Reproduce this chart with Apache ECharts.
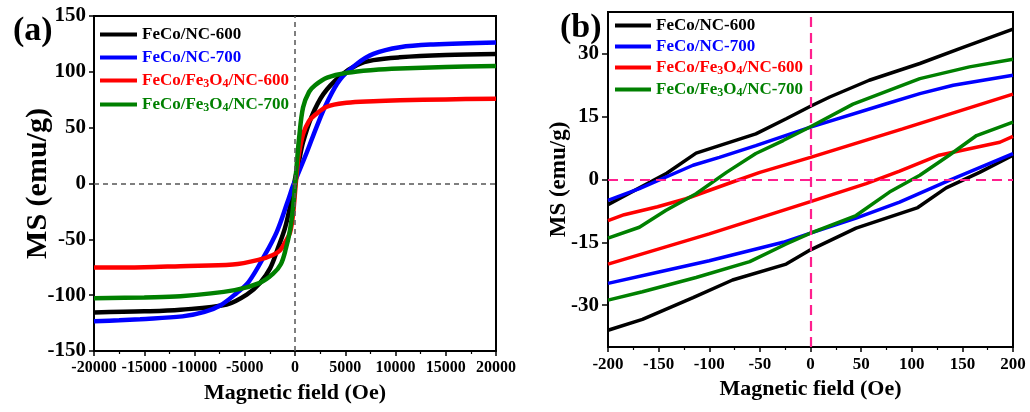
<!DOCTYPE html>
<html>
<head>
<meta charset="utf-8">
<script src="https://cdn.jsdelivr.net/npm/echarts@6/dist/echarts.min.js"></script>
<style>
html, body { margin: 0; padding: 0; background: #fff; }
#main { width: 1030px; height: 412px; }
</style>
</head>
<body>
<div id="main"></div>
<script>
// sample names and colours
var names = ['FeCo/NC-600', 'FeCo/NC-700', 'FeCo/Fe3O4/NC-600', 'FeCo/Fe3O4/NC-700'];
var colors = ['#000000', '#0000ff', '#ff0000', '#008000'];

// (a) full loops, field in Oe, MS in emu/g
var aBlack = [[-20000,-115.5],[-15000,-114.5],[-11400,-113],[-6800,-108.4],[-4800,-99.5],[-3480,-89],[-2480,-76],[-1660,-57],[-1000,-40],[-500,-21],[-200,-7],[0,4],[400,20],[800,37],[1660,60],[2820,80],[4480,96],[6140,106],[7800,110.5],[10400,113],[15000,115],[20000,116]];
var aBlue = [[-20000,-123.4],[-17500,-122.5],[-15400,-121.5],[-11200,-119],[-9000,-115],[-7400,-109],[-5800,-98],[-4600,-88],[-3000,-64],[-1800,-43],[-800,-18],[-160,-1],[0,2],[1160,27.5],[2160,51],[3160,72],[4480,93],[6140,107],[7800,116],[10440,122],[13760,124.5],[20000,126.3]];
var aRed = [[-20000,-75.3],[-15000,-75],[-11400,-74],[-6200,-72.6],[-3480,-68],[-2200,-64],[-1500,-60],[-1000,-53],[-500,-44],[-200,-28],[0,-8],[200,12],[400,27],[830,45],[1400,56],[1820,60],[3160,68.7],[5140,72.3],[7800,73.7],[10440,74.5],[15000,75.3],[20000,76]];
var aGreen = [[-20000,-102.8],[-15000,-102],[-11400,-101],[-6000,-95.5],[-3500,-89],[-2200,-81],[-1400,-72],[-900,-58],[-500,-42],[-200,-22],[0,-2],[200,20],[400,40],[800,68],[1400,82],[2000,88],[3200,94.8],[5200,99.2],[7800,101.7],[10400,103],[15000,104.3],[20000,105.2]];

// (b) low-field zoom, upper and lower branches
var bBlackUp = [[-200,-6.0],[-142,1.5],[-113,6.3],[-54,10.9],[-24,14.5],[0,17.5],[19,19.7],[58,23.7],[108,27.7],[150,31.5],[200,35.9]];
var bBlackDown = [[-200,-36.0],[-166,-33.4],[-116,-28.2],[-77,-24.0],[-24,-20.2],[0,-16.8],[45,-11.6],[106,-6.7],[134,-2.0],[167,1.7],[200,5.8]];
var bBlueUp = [[-200,-5.0],[-169,-2.2],[-116,3.4],[-90,5.3],[-54,8.1],[0,12.5],[75,18.1],[108,20.5],[141,22.5],[200,24.9]];
var bBlueDown = [[-200,-24.8],[-152,-22.2],[-100,-19.4],[-27,-15.0],[0,-12.8],[45,-9.2],[88,-5.4],[137,-0.2],[200,6.2]];
var bRedUp = [[-200,-9.8],[-184,-8.4],[-151,-6.5],[-123,-4.6],[-77,-0.6],[-50,1.7],[0,5.3],[91,12.1],[200,20.4]];
var bRedDown = [[-200,-20.2],[-100,-13.0],[0,-5.3],[55,-1.0],[88,2.0],[127,5.8],[187,8.9],[200,10.3]];
var bGreenUp = [[-200,-14.0],[-169,-11.4],[-143,-7.4],[-113,-3.4],[-83,1.7],[-54,6.2],[-27,9.3],[0,12.6],[42,18.0],[108,24.1],[157,26.9],[200,28.7]];
var bGreenDown = [[-200,-28.8],[-166,-26.8],[-113,-23.4],[-60,-19.6],[-24,-15.4],[0,-12.8],[45,-8.6],[78,-3.0],[108,1.0],[137,5.8],[164,10.5],[200,13.7]];

var bYTicks = [-30, -15, 0, 15, 30];

var FONT = "'Times New Roman', 'Liberation Serif', serif";
var keys = ['k', 'b', 'r', 'g'];

function legendText(name) {
    var key = keys[names.indexOf(name)];
    var m = name.match(/^(.*Fe)3O4(.*)$/);
    if (m) {
        return '{' + key + '|' + m[1] + '}{' + key + 's|3}{' + key + '|O}{' + key + 's|4}{' + key + '|' + m[2] + '}';
    }
    return '{' + key + '|' + name + '}';
}

function richStyles(size) {
    var r = {};
    keys.forEach(function(k, i) {
        r[k] = { color: colors[i], fontSize: size, fontWeight: 'bold', fontFamily: FONT };
        r[k + 's'] = { color: colors[i], fontSize: Math.round(size * 0.68), fontWeight: 'bold', fontFamily: FONT, padding: [7, 0, 0, 0] };
    });
    return r;
}

function lineSeries(name, idx, data, axis, width, smooth) {
    return {
        name: name,
        type: 'line',
        xAxisIndex: axis,
        yAxisIndex: axis,
        data: data,
        symbol: 'none',
        smooth: smooth,
        z: 3,
        lineStyle: { color: colors[idx], width: width },
        itemStyle: { color: colors[idx] }
    };
}

var aData = [aBlack, aBlue, aRed, aGreen];
var bUp = [bBlackUp, bBlueUp, bRedUp, bGreenUp];
var bDown = [bBlackDown, bBlueDown, bRedDown, bGreenDown];

var series = [];
// dashed zero lines
series.push({
    type: 'line', xAxisIndex: 0, yAxisIndex: 0, data: [], z: 1,
    markLine: {
        silent: true, symbol: 'none', label: { show: false },
        lineStyle: { color: '#555', type: [5, 4], width: 1.5 },
        data: [{ xAxis: 0 }, { yAxis: 0 }]
    }
});
series.push({
    type: 'line', xAxisIndex: 1, yAxisIndex: 1, data: [], z: 1,
    markLine: {
        silent: true, symbol: 'none', label: { show: false },
        lineStyle: { color: '#ff1f8e', type: [10, 6], width: 2.2 },
        data: [{ xAxis: 0 }, { yAxis: 0 }]
    }
});
names.forEach(function(n, i) {
    series.push(lineSeries(n, i, aData[i], 0, 4.5, 0.35));
});
names.forEach(function(n, i) {
    series.push(lineSeries(n, i, bUp[i], 1, 3.5, false));
    series.push(lineSeries(n, i, bDown[i], 1, 3.5, false));
});

function xAxisOf(grid, min, max, interval, fontSize) {
    return {
        type: 'value', gridIndex: grid, min: min, max: max, interval: interval,
        name: 'Magnetic field (Oe)', nameLocation: 'middle', nameGap: 31,
        nameTextStyle: { fontSize: 22, fontWeight: 'bold', fontFamily: FONT, color: '#000' },
        axisLine: { show: true, onZero: false, lineStyle: { color: '#000', width: 2 } },
        axisTick: { show: true, length: 5, lineStyle: { color: '#000', width: 1.5 } },
        minorTick: { show: true, splitNumber: 2, length: 3, lineStyle: { color: '#000', width: 1.2 } },
        axisLabel: {
            fontSize: fontSize, fontWeight: 'bold', fontFamily: FONT, color: '#000', margin: 9,
            formatter: function(v) { return String(v); }
        },
        splitLine: { show: false }
    };
}

function legendOf(left, top, width, gap) {
    return {
        data: names, orient: 'vertical', left: left, top: top,
        icon: 'rect', itemWidth: width, itemHeight: 4, itemGap: gap,
        formatter: legendText, textStyle: { rich: richStyles(17) }, selectedMode: false
    };
}

var chart = echarts.init(document.getElementById('main'));
chart.setOption({
    animation: false,
    backgroundColor: '#fff',
    title: [
        { text: '(a)', left: 8, top: 9, textStyle: { fontSize: 34, fontWeight: 'bold', fontFamily: FONT, color: '#000' } },
        { text: '(b)', left: 555, top: 6, textStyle: { fontSize: 34, fontWeight: 'bold', fontFamily: FONT, color: '#000' } }
    ],
    grid: [
        { left: 94, right: 534, top: 16, bottom: 61, show: true, borderColor: '#000', borderWidth: 2 },
        { left: 608, right: 17, top: 12, bottom: 65, show: true, borderColor: '#000', borderWidth: 2 }
    ],
    legend: [
        legendOf(95, 21, 37, 6),
        legendOf(610, 12, 36, 4)
    ],
    xAxis: [
        xAxisOf(0, -20000, 20000, 5000, 16),
        xAxisOf(1, -200, 200, 50, 17)
    ],
    yAxis: [
        {
            type: 'value', gridIndex: 0, min: -150, max: 150, interval: 50,
            name: 'MS (emu/g)', nameLocation: 'middle', nameGap: 41, nameMoveOverlap: false,
            nameTextStyle: { fontSize: 30, fontWeight: 'bold', fontFamily: FONT, color: '#000' },
            axisLine: { show: true, onZero: false, lineStyle: { color: '#000', width: 2 } },
            axisTick: { show: true, length: 5, lineStyle: { color: '#000', width: 1.5 } },
            axisLabel: { fontSize: 21, fontWeight: 'bold', fontFamily: FONT, color: '#000', margin: 8 },
            splitLine: { show: false }
        },
        {
            type: 'value', gridIndex: 1, min: -40, max: 40, interval: 5,
            name: 'MS (emu/g)', nameLocation: 'middle', nameGap: 37, nameMoveOverlap: false,
            nameTextStyle: { fontSize: 23, fontWeight: 'bold', fontFamily: FONT, color: '#000' },
            axisLine: { show: true, onZero: false, lineStyle: { color: '#000', width: 2 } },
            axisTick: { show: true, length: 6, customValues: bYTicks, lineStyle: { color: '#000', width: 1.5 } },
            axisLabel: { fontSize: 21, fontWeight: 'bold', fontFamily: FONT, color: '#000', margin: 9, customValues: bYTicks },
            splitLine: { show: false }
        }
    ],
    series: series
});
</script>
</body>
</html>
